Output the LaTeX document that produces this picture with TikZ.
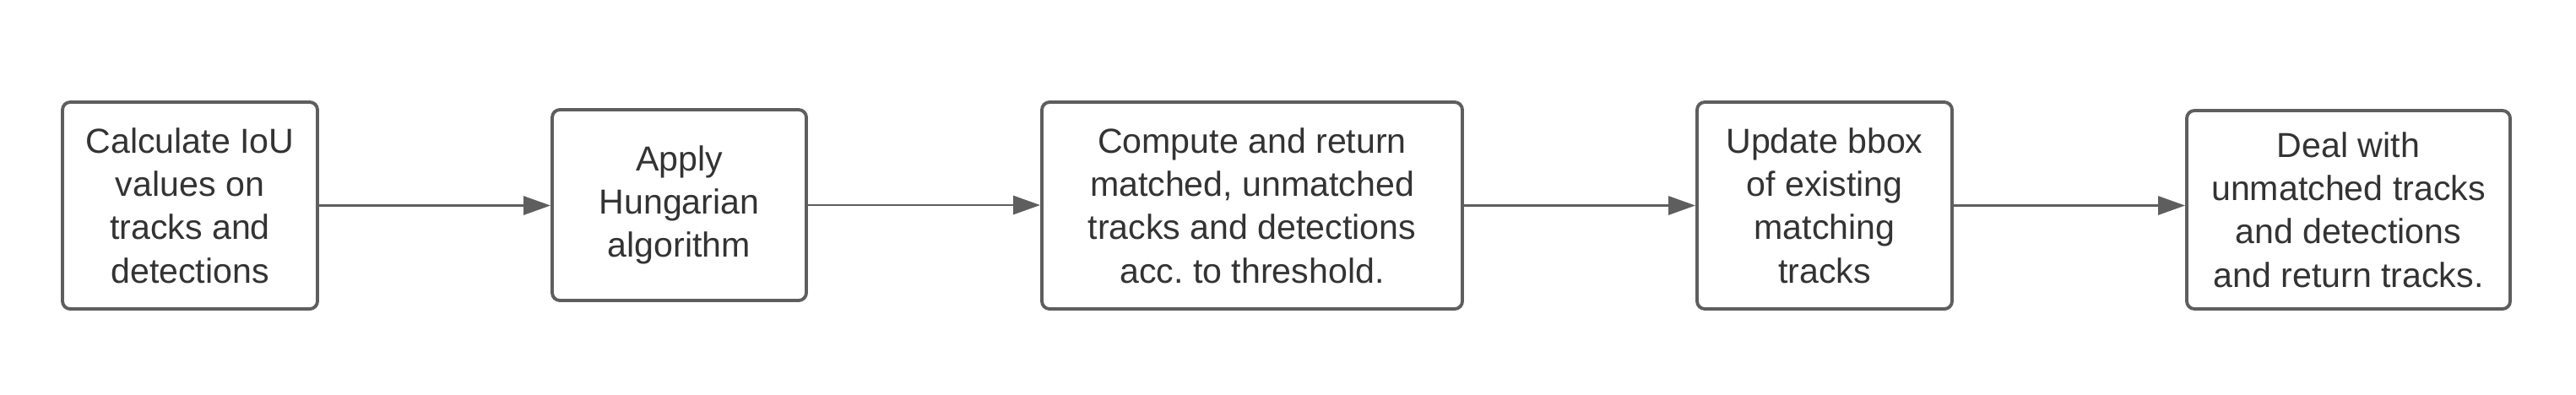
\documentclass[tikz,border=0pt]{standalone}
\usepackage{fontspec}
\setmainfont{Liberation Sans}
\usetikzlibrary{arrows.meta}
\definecolor{edgegray}{HTML}{5E5E5E}
\definecolor{textgray}{HTML}{333333}
\frenchspacing
\begin{document}
\begin{tikzpicture}[
    stepbox/.style={draw=edgegray,line width=1.1pt,rounded corners=2.6pt,fill=white,
      align=center,text=textgray,inner sep=0pt,
      font=\fontsize{11.7pt}{14.6pt}\selectfont},
    flow/.style={draw=edgegray,line width=0.8pt,-{Triangle[length=0.32cm,width=0.22cm]}}
  ]
  % canvas
  \useasboundingbox (0,0) rectangle (30.51,-4.67);
  % Steps
  \node[stepbox,minimum width=3.02cm,minimum height=2.45cm] (iou) at (2.25,-2.435)
    {Calculate IoU\\values on\\tracks and\\detections};
  \node[stepbox,minimum width=3.01cm,minimum height=2.26cm] (hungarian) at (8.045,-2.43)
    {Apply\\Hungarian\\algorithm};
  \node[stepbox,minimum width=4.98cm,minimum height=2.45cm] (compute) at (14.83,-2.435)
    {Compute and return\\matched, unmatched\\tracks and detections\\acc. to threshold.};
  \node[stepbox,minimum width=3.02cm,minimum height=2.45cm] (update) at (21.61,-2.435)
    {Update bbox\\of existing\\matching\\tracks};
  \node[stepbox,minimum width=3.83cm,minimum height=2.35cm] (deal) at (27.815,-2.485)
    {Deal with\\unmatched tracks\\and detections\\and return tracks.};
  % Flow between the steps
  \draw[flow] (iou) -- (iou -| hungarian.west);
  \draw[flow] (hungarian) -- (hungarian -| compute.west);
  \draw[flow] (compute) -- (compute -| update.west);
  \draw[flow] (update) -- (update -| deal.west);
\end{tikzpicture}
\end{document}
